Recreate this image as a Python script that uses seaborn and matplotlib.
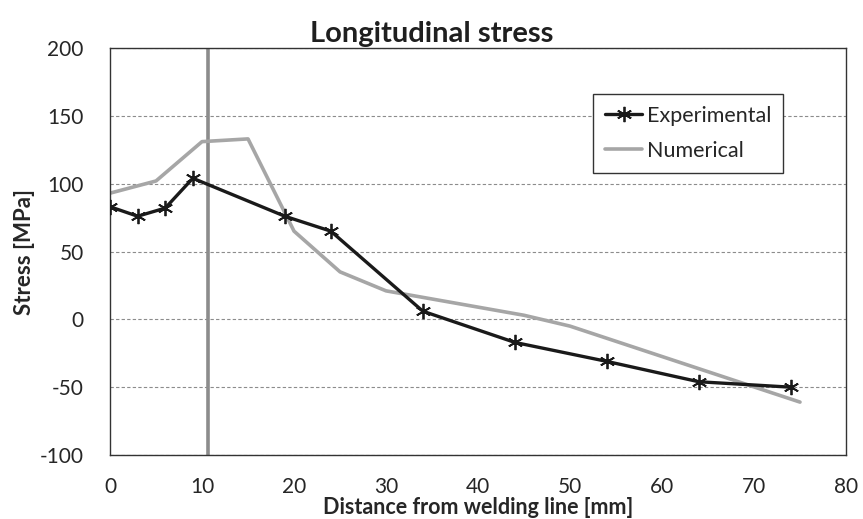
import pandas as pd
import seaborn as sns
import matplotlib.pyplot as plt

# datos
exp_x = [0, 3, 6, 9, 19, 24, 34, 44, 54, 64, 74]
exp_y = [83, 76, 82, 104, 76, 65, 6, -17, -31, -46, -50]

num_x = [0, 5, 10, 15, 20, 25, 30, 35, 40, 45, 50, 75]
num_y = [93, 102, 131, 133, 65, 35, 21, 15, 9, 3, -5, -61]

weld_x = 10.6

df_exp = pd.DataFrame({'x': exp_x, 'y': exp_y})
df_num = pd.DataFrame({'x': num_x, 'y': num_y})

sns.set_style("white")
plt.rcParams['font.family'] = ['Lato', 'DejaVu Sans']
plt.rcParams['axes.unicode_minus'] = False

fig = plt.figure(figsize=(8.63, 5.19), dpi=100)
ax = fig.add_axes([0.1275, 0.1233, 0.8528, 0.7842])

ax.axvline(weld_x, color='#8c8c8c', lw=2.6, zorder=1)
sns.lineplot(data=df_exp, x='x', y='y', ax=ax, color='#1a1a1a', lw=2.4,
             marker=(6, 2, 0), markersize=11, markeredgewidth=1.3,
             markeredgecolor='#1a1a1a', label='Experimental', zorder=3)
sns.lineplot(data=df_num, x='x', y='y', ax=ax, color='#a6a6a6', lw=2.6,
             label='Numerical', zorder=2)

ax.set_xlim(0, 80)
ax.set_ylim(-100, 200)
ax.set_xticks(range(0, 81, 10))
ax.set_yticks(range(-100, 201, 50))
ax.grid(True, axis='y', color='#8c8c8c', ls=(0, (3, 2)), lw=0.8)
ax.tick_params(direction='in', length=6, width=1, color='#333333',
               labelsize=15, labelcolor='#262626')
ax.tick_params(axis='x', pad=16)
ax.tick_params(axis='y', pad=19)
for s in ax.spines.values():
    s.set_color('#333333')
    s.set_linewidth(1)

ax.set_title('Longitudinal stress', fontsize=21, fontweight='bold',
             color='#1f1f1f', x=0.4375, pad=4)
ax.set_xlabel('Distance from welding line [mm]', fontsize=15.5,
              fontweight='bold', color='#262626')
ax.set_ylabel('Stress [MPa]', fontsize=16, fontweight='bold',
              color='#262626')
ax.xaxis.set_label_coords(0.5, -0.104)
ax.yaxis.set_label_coords(-0.102, 0.5)

leg = ax.legend(loc='upper left', bbox_to_anchor=(0.656, 0.887),
                fontsize=15.5, frameon=True, fancybox=False, handlelength=1.75,
                borderpad=0.55, labelspacing=0.7, handletextpad=0.2,
                borderaxespad=0)
leg.get_frame().set_edgecolor('#333333')
leg.get_frame().set_linewidth(1)
leg.get_frame().set_alpha(1)

plt.savefig('out.png', dpi=100)
